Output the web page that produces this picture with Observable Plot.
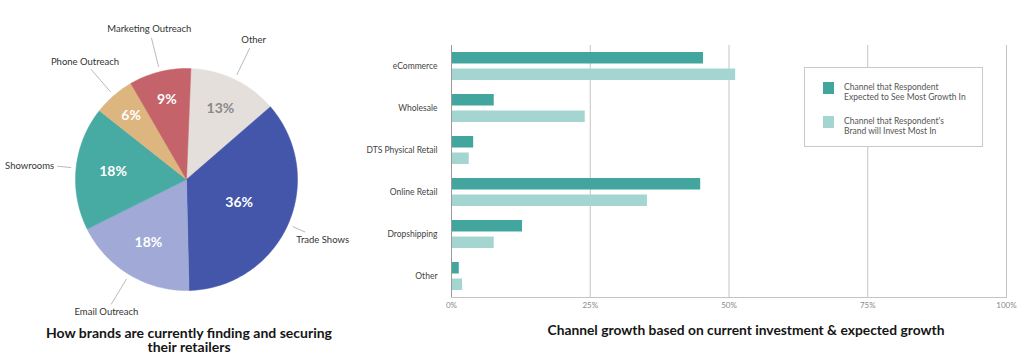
<!DOCTYPE html>
<html><head><meta charset="utf-8">
<script src="https://cdn.jsdelivr.net/npm/d3@7"></script>
<script src="https://cdn.jsdelivr.net/npm/@observablehq/plot@0.6"></script>
<style>
body{margin:0;background:#fff;}
#root{position:relative;width:1020px;height:358px;overflow:hidden;background:#fff;font-family:Lato,sans-serif;}
#pie,#bars{position:absolute;top:0;}
#pie{left:0;}
#bars{left:360px;}
.title{position:absolute;font-family:Lato,"Noto Sans",sans-serif;font-weight:bold;font-size:13.5px;color:#151515;white-space:nowrap;line-height:14px;text-align:center;transform-origin:center center;}
.legend{position:absolute;left:804px;top:67px;width:179px;height:80px;border:1px solid #c9c9c9;background:#fff;box-sizing:border-box;}
.sw{position:absolute;left:18px;width:11px;height:12px;}
.lt{position:absolute;left:39px;font-family:Lato,sans-serif;font-size:8.5px;line-height:10px;color:#555;white-space:pre;}
</style></head><body><div id="root"><div id="pie"></div><div id="bars"></div></div>
<script>
// ---- data: pie ----
const sources = ["Other","Trade Shows","Email Outreach","Showrooms","Phone Outreach","Marketing Outreach"];
const shares = [13,36,18,18,6,9];
const pieColors = ["#e4dfdb","#4356aa","#a1a9d6","#47aaa3","#ddb57f","#c5636b"];
const shareLabelColors = ["#8a8a8a","#ffffff","#ffffff","#ffffff","#ffffff","#ffffff"];

// ---- data: bars ----
const channels = ["eCommerce","Wholesale","DTS Physical Retail","Online Retail","Dropshipping","Other"];
const expectedGrowth = [45.4,7.7,4.0,44.9,12.8,1.4];
const brandInvest = [51.2,24.1,3.2,35.3,7.7,2.0];
const xTicks = [0,25,50,75,100];
const seriesNames = ["Channel that Respondent\nExpected to See Most Growth In","Channel that Respondent's\nBrand will Invest Most In"];
const seriesColors = ["#43a69e","#a5d5d1"];

const pieTitle = ["How brands are currently finding and securing","their retailers"];
const barTitle = "Channel growth based on current investment & expected growth";

const root = document.getElementById("root");

// ---- pie ----
const R = 111;
const pieData = sources.map((s,i)=>({name:s, share:shares[i], color:pieColors[i], labelColor:shareLabelColors[i]}));
const arcs = d3.pie().sort(null).value(d=>d.share).startAngle(0.04).endAngle(0.04+2*Math.PI)(pieData);
const pt = (a,r)=>({x:r*Math.sin(a), y:-r*Math.cos(a)});
const sliceMarks = arcs.map(a=>{
  const n = Math.max(2, Math.ceil((a.endAngle-a.startAngle)/(Math.PI/180)));
  const pts = [{x:0,y:0}];
  for (let k=0;k<=n;k++) pts.push(pt(a.startAngle+(a.endAngle-a.startAngle)*k/n, R));
  pts.push({x:0,y:0});
  return Plot.line(pts,{x:"x",y:"y",fill:a.data.color,stroke:a.data.color,strokeWidth:0.5,curve:"linear"});
});
const mids = arcs.map(a=>({d:a.data, m:(a.startAngle+a.endAngle)/2}));
const pctLabels = mids.map(({d,m})=>({...pt(m, 90-0.9*d.share), text:d.share+"%", color:d.labelColor}));
const leaders = [], outerMarks = [];
mids.forEach(({d,m})=>{
  const s = Math.sin(m);
  const side = Math.abs(s) > 0.8;
  const a = pt(m,116), b = pt(m, side ? 130 : 146);
  leaders.push({x1:a.x,y1:a.y,x2:b.x,y2:b.y});
  let p, anchor = "middle", dx = 0, dy = 0;
  if (side) {
    p = b; anchor = s > 0 ? "start" : "end"; dx = s > 0 ? 3 : -3;
    if (s > 0 && Math.cos(m) < 0) { dx = -9; dy = 8; }
  } else {
    p = pt(m,155);
  }
  outerMarks.push(Plot.text([{...p, text:d.name}],{x:"x",y:"y",text:"text",textAnchor:anchor,dx,dy,fontSize:9.5,fill:"#333"}));
});

const piePlot = Plot.plot({
  width:370, height:320, margin:0, inset:0,
  x:{domain:[-186,184], range:[0,370], axis:null},
  y:{domain:[-179,141], range:[0,320], axis:null},
  color:{type:"identity"},
  style:{background:"transparent", fontFamily:"Lato, sans-serif", overflow:"visible"},
  marks:[
    ...sliceMarks,
    Plot.link(leaders,{x1:"x1",y1:"y1",x2:"x2",y2:"y2",stroke:"#a8a8a8",strokeWidth:0.8}),
    ...outerMarks,
    Plot.text(pctLabels,{x:"x",y:"y",text:"text",fill:"color",fontSize:14,fontWeight:"bold"})
  ]
});
document.getElementById("pie").append(piePlot);

// ---- bars ----
const growthRows = channels.map((c,i)=>({channel:c, value:expectedGrowth[i]}));
const investRows = channels.map((c,i)=>({channel:c, value:brandInvest[i]}));
const barPlot = Plot.plot({
  width:660, height:320,
  marginLeft:91, marginRight:14, marginTop:45, marginBottom:23,
  x:{domain:[0,100], ticks:xTicks, tickFormat:d=>d+"%"},
  y:{domain:channels, padding:0},
  style:{background:"transparent", fontFamily:"Lato, sans-serif", color:"#444"},
  marks:[
    Plot.ruleX(xTicks.slice(1),{stroke:"#c4c4c4",strokeWidth:1}),
    Plot.barX(growthRows,{y:"channel",x:"value",fill:seriesColors[0],insetTop:7,insetBottom:23.5}),
    Plot.barX(investRows,{y:"channel",x:"value",fill:seriesColors[1],insetTop:23.5,insetBottom:7}),
    Plot.ruleX([0],{stroke:"#9a9a9a",strokeWidth:1}),
    Plot.frame({anchor:"bottom",stroke:"#c4c4c4"}),
    Plot.axisY({tickSize:0,tickPadding:14,fontSize:8.5,fill:"#444",label:null}),
    Plot.axisX({ticks:xTicks,tickSize:0,tickPadding:5,fontSize:8,fill:"#888",label:null,tickFormat:d=>d+"%"})
  ]
});
document.getElementById("bars").append(barPlot);

// ---- legend ----
const lg = document.createElement("div"); lg.className = "legend";
seriesNames.forEach((n,i)=>{
  const sw = document.createElement("div"); sw.className="sw"; sw.style.top=(14+i*34)+"px"; sw.style.background=seriesColors[i];
  const t = document.createElement("div"); t.className="lt"; t.style.top=(14+i*34)+"px"; t.textContent=n;
  lg.append(sw,t);
});
root.append(lg);

// ---- titles ----
function title(lines, cx, cy, targetW) {
  const el = document.createElement("div"); el.className="title";
  lines.forEach((l,i)=>{ if (i) el.append(document.createElement("br")); el.append(document.createTextNode(l)); });
  root.append(el);
  const w = el.getBoundingClientRect().width;
  const s = targetW / w;
  el.style.left = cx+"px"; el.style.top = cy+"px";
  el.style.transform = `translate(-50%,-50%) scaleX(${s})`;
}
title(pieTitle, 189, 339.5, 286);
title([barTitle], 745.5, 330, 397);
</script></body></html>
